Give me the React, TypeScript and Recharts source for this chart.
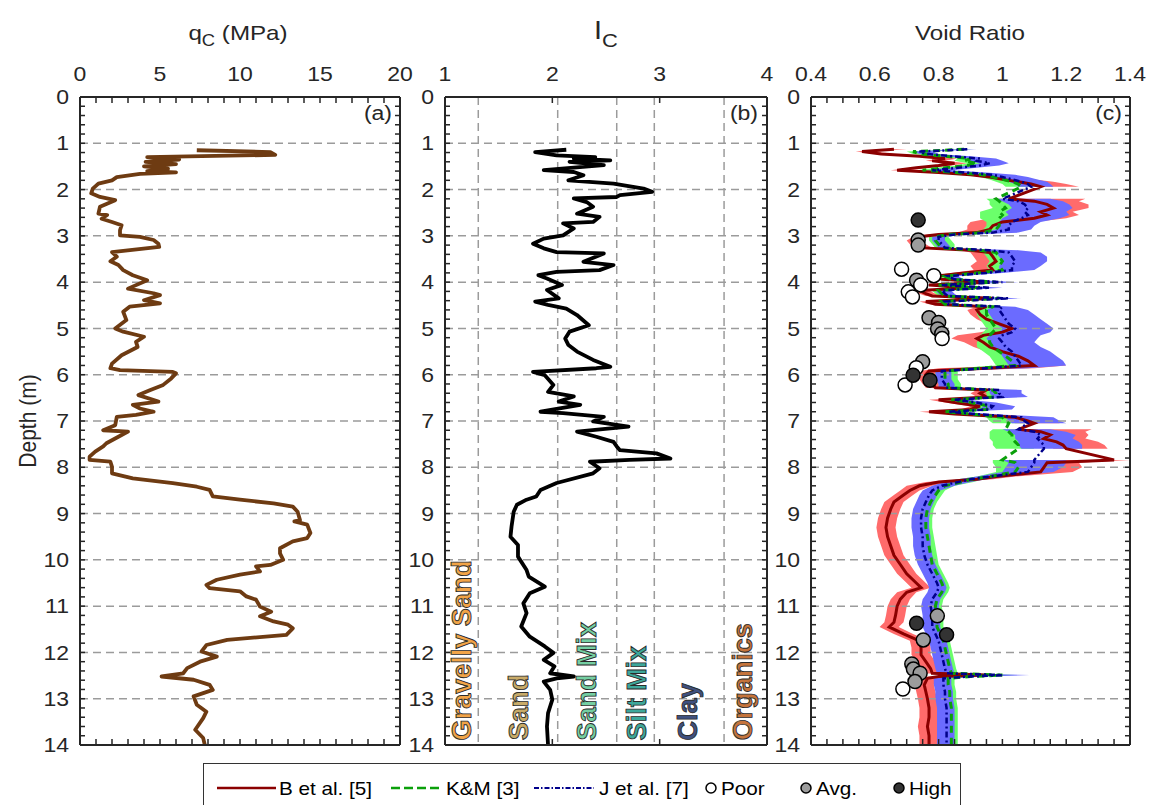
import React from 'react';
import { ComposedChart, Line, Area, Scatter, XAxis, YAxis, ReferenceLine, ReferenceDot } from 'recharts';

const INK = '#262626';
const GRID = '#9b9b9b';
const SX = 1.15; // the source figure is stretched a little horizontally

// shared depth axis (m)
const depthMajor = [0, 1, 2, 3, 4, 5, 6, 7, 8, 9, 10, 11, 12, 13, 14];
const depthGrid = [1, 2, 3, 4, 5, 6, 7, 8, 9, 10, 11, 12, 13];
const depthMinor = Array.from({ length: 71 }, (_, i) => (i * 2) / 10);

// (a) cone resistance qc (MPa)
const qcTicks = [0, 5, 10, 15, 20];
const qcMinor = Array.from({ length: 21 }, (_, i) => i);
const qcDepth = [
  1.15, 1.19, 1.25, 1.3, 1.35, 1.4, 1.45, 1.5, 1.55, 1.6,
  1.63, 1.66, 1.73, 1.8, 1.87, 1.98, 2.08, 2.16, 2.23, 2.37,
  2.52, 2.55, 2.63, 2.7, 2.77, 2.88, 2.99, 3.02, 3.09, 3.17,
  3.24, 3.35, 3.45, 3.55, 3.63, 3.74, 3.85, 3.96, 4.14, 4.24,
  4.28, 4.39, 4.46, 4.53, 4.64, 4.82, 5.0, 5.07, 5.18, 5.29,
  5.4, 5.58, 5.76, 5.86, 5.9, 5.94, 5.97, 6.08, 6.22, 6.33,
  6.44, 6.58, 6.65, 6.73, 6.8, 6.87, 6.91, 7.09, 7.2, 7.23,
  7.34, 7.48, 7.55, 7.66, 7.77, 7.84, 7.88, 7.99, 8.13, 8.24,
  8.34, 8.42, 8.49, 8.63, 8.7, 8.78, 8.85, 8.96, 9.14, 9.17,
  9.24, 9.42, 9.53, 9.6, 9.75, 9.86, 10.0, 10.11, 10.14, 10.25,
  10.32, 10.43, 10.54, 10.61, 10.68, 10.79, 10.86, 11.01, 11.12, 11.22,
  11.33, 11.4, 11.48, 11.62, 11.73, 11.84, 11.98, 12.09, 12.2, 12.34,
  12.45, 12.52, 12.59, 12.7, 12.81, 12.95, 13.13, 13.28, 13.42, 13.67,
  13.85, 14.0,
];
const qcValue = [
  7.3, 11.9, 12.2, 4.2, 6.2, 4.1, 6.0, 4.0, 5.5, 4.2,
  6.0, 3.75, 2.3, 2.0, 1.15, 0.8, 0.7, 1.25, 2.2, 1.25,
  1.15, 1.7, 1.35, 2.0, 2.6, 2.5, 2.5, 3.75, 4.6, 4.9,
  4.95, 2.0, 2.3, 1.9, 2.4, 2.7, 3.3, 4.2, 3.0, 4.6,
  5.0, 4.0, 5.0, 3.1, 2.7, 2.9, 2.2, 2.7, 4.0, 3.5,
  3.6, 2.6, 2.0, 1.9, 2.5, 5.8, 6.0, 5.7, 5.2, 4.4,
  3.65, 4.9, 3.3, 3.75, 4.6, 3.5, 2.3, 2.2, 1.45, 3.0,
  2.4, 1.65, 1.45, 0.95, 0.6, 0.6, 1.9, 2.0, 2.0, 3.3,
  5.8, 7.3, 8.1, 8.3, 10.0, 12.1, 13.3, 13.6, 13.75, 13.4,
  14.2, 14.4, 14.2, 13.3, 12.5, 12.5, 12.7, 11.9, 11.0, 11.25,
  10.0, 8.55, 7.9, 8.1, 10.0, 10.4, 11.0, 11.25, 11.95, 11.25,
  12.1, 13.0, 13.3, 12.9, 9.2, 7.9, 7.6, 8.55, 7.5, 6.7,
  6.45, 5.1, 7.1, 8.1, 8.3, 7.1, 7.3, 7.9, 7.7, 7.2,
  7.7, 7.8,
];

// (b) soil behaviour type index Ic
const icTicks = [1, 2, 3, 4];
const icBounds = [1.31, 2.05, 2.6, 2.95, 3.6];
const icDepth = [
  1.14, 1.19, 1.26, 1.3, 1.33, 1.37, 1.4, 1.47, 1.58, 1.62,
  1.69, 1.8, 1.87, 1.98, 2.05, 2.12, 2.16, 2.19, 2.27, 2.37,
  2.52, 2.59, 2.7, 2.73, 2.84, 2.99, 3.06, 3.17, 3.27, 3.35,
  3.38, 3.56, 3.63, 3.74, 3.78, 3.85, 3.92, 4.06, 4.17, 4.35,
  4.42, 4.49, 4.57, 4.71, 4.93, 5.07, 5.22, 5.36, 5.5, 5.68,
  5.83, 5.86, 5.94, 6.01, 6.22, 6.37, 6.47, 6.58, 6.65, 6.8,
  6.83, 6.91, 7.01, 7.12, 7.23, 7.34, 7.45, 7.55, 7.63, 7.7,
  7.81, 7.84, 7.88, 8.02, 8.13, 8.34, 8.49, 8.63, 8.7, 8.81,
  8.96, 9.28, 9.5, 9.68, 9.93, 10.22, 10.36, 10.58, 10.72, 10.94,
  11.15, 11.44, 11.66, 11.87, 12.01, 12.16, 12.3, 12.45, 12.52, 12.56,
  12.63, 12.81, 13.02, 13.31, 13.6, 14.0,
];
const icValue = [
  2.13, 1.84, 2.04, 2.4, 2.2, 2.54, 2.16, 2.48, 1.92, 2.2,
  2.29, 2.15, 2.57, 2.85, 2.93, 2.63, 2.6, 2.2, 2.32, 2.38,
  2.23, 2.44, 2.38, 2.1, 2.2, 2.1, 1.92, 1.82, 1.92, 2.04,
  2.48, 2.29, 2.57, 2.44, 2.04, 1.87, 1.95, 2.09, 1.95, 2.06,
  1.84, 1.96, 2.13, 2.23, 2.34, 2.16, 2.12, 2.15, 2.23, 2.38,
  2.54, 2.41, 1.82, 1.93, 2.01, 1.96, 2.2, 2.06, 2.26, 1.89,
  2.1, 2.48, 2.38, 2.71, 2.23, 2.41, 2.57, 2.6, 2.63, 2.97,
  3.1, 2.72, 2.35, 2.44, 2.38, 2.04, 1.89, 1.85, 1.76, 1.67,
  1.64, 1.62, 1.61, 1.68, 1.68, 1.76, 1.78, 1.93, 1.79, 1.73,
  1.76, 1.71, 1.79, 1.93, 2.01, 1.92, 2.02, 1.98, 2.2, 2.04,
  1.92, 1.98, 2.0, 1.96, 1.95, 1.96,
];
const soilNames = ['Gravelly Sand', 'Sand', 'Sand Mix', 'Silt Mix', 'Clay', 'Organics'];
const soilColors = ['#f2a447', '#c9ab68', '#74cfa2', '#3da89b', '#3f5180', '#c5743c'];
const soilIc = [1.15, 1.68, 2.32, 2.78, 3.26, 3.77];

// (c) void ratio: three correlations, each with an uncertainty band
const eTicks = [0.4, 0.6, 0.8, 1, 1.2, 1.4];
const eMinor = Array.from({ length: 21 }, (_, i) => (40 + i * 5) / 100);
const voidDepth = [
  1.13, 1.18, 1.23, 1.28, 1.33, 1.38, 1.43, 1.48, 1.53, 1.58, 1.63, 1.68, 1.73, 1.78, 1.83, 1.88, 1.94, 2.05,
  2.2, 2.25, 2.32, 2.4, 2.48, 2.55, 2.62, 2.7, 2.78, 2.86, 2.93, 2.97,
  3.02, 3.1, 3.18, 3.26, 3.31, 3.36, 3.45, 3.55, 3.65, 3.74, 3.8,
  3.87, 3.94, 4.0, 4.06, 4.12, 4.18, 4.25, 4.3, 4.35, 4.42, 4.48, 4.53,
  4.6, 4.7, 4.8, 4.9, 5.0, 5.08, 5.15, 5.22, 5.3, 5.4, 5.5, 5.6, 5.7, 5.8, 5.86,
  5.92, 6.0, 6.1, 6.2, 6.28, 6.33, 6.4, 6.48, 6.54, 6.6, 6.68, 6.75, 6.8, 6.85, 6.92, 7.0, 7.05, 7.12,
  7.18, 7.23, 7.3, 7.38, 7.45, 7.52, 7.6, 7.72,
  7.84, 7.9, 8.0, 8.1, 8.2, 8.26, 8.32, 8.4, 8.5, 8.6, 8.75, 8.9, 9.1, 9.3, 9.5, 9.7, 9.9, 10.1, 10.3, 10.5,
  10.6, 10.7, 10.85, 11.0, 11.2, 11.35, 11.45, 11.6, 11.75, 11.9, 12.05, 12.2, 12.35, 12.45, 12.49, 12.52,
  12.56, 12.7, 12.85, 13.0, 13.2, 13.4, 13.6, 13.8, 14.0,
];
const eB = [
  .66, .56, .62, .74, .82, .78, .85, .80, .73, .67, .80, .90, .96, 1.0, 1.05, 1.09, 1.12, null,
  1.02, 1.10, 1.14, 1.16, 1.12, 1.14, 1.10, 1.0, .97, .96, .92, .80,
  .74, .72, .73, .75, .90, .96, .97, .98, .96, .97, .88,
  .79, .81, .96, .77, .90, .74, .76, .78, .97, .76, .79, .95,
  .92, .93, .95, .99, 1.03, 1.0, .94, .92, .94, .96, 1.0, 1.05, 1.08, 1.1, .95,
  .77, .76, .77, .78, .79, .95, .93, .95, .80, .85, .93, .90, .77, .85, 1.04, 1.08, 1.1, null,
  1.05, 1.12, 1.15, 1.13, 1.17, 1.19, 1.2, null,
  1.35, 1.14, 1.13, 1.12, .98, .92, .80, .74, .71, .69, .66, .65, .64, .635, .64, .65, .66, .68, .70, .73,
  .745, .70, .68, .67, .665, .66, .645, .69, .74, .745, .745, .76, .775, .78, .95, .80,
  .765, .755, .76, .765, .77, .77, .765, .77, .77,
];
const eK = [
  .88, .72, .74, .82, .90, .88, .92, .89, .82, .75, .85, .94, .97, 1.0, 1.03, 1.05, 1.06, null,
  .98, .99, 1.0, 1.01, .99, 1.0, .99, .99, .99, .98, .94, .83,
  .79, .79, .80, .81, .93, .98, .99, 1.0, .99, 1.0, .92,
  .82, .84, .98, .80, .93, .80, .81, .82, .99, .81, .82, .97,
  .95, .95, .96, .97, .98, .97, .96, .96, .96, .97, .99, 1.01, 1.03, 1.04, .93,
  .82, .82, .82, .83, .83, .97, .98, .98, .84, .90, .96, .95, .82, .90, 1.0, 1.01, 1.02, null,
  1.01, 1.02, 1.03, 1.03, 1.04, 1.05, 1.05, null,
  1.0, 1.04, 1.05, 1.04, .96, .90, .87, .82, .80, .79, .775, .765, .76, .76, .765, .77, .775, .78, .795, .81,
  .815, .81, .795, .79, .795, .795, .795, .805, .815, .82, .825, .83, .835, .84, 1.0, .90,
  .83, .83, .835, .835, .84, .84, .84, .84, .84,
];
const eJ = [
  .89, .74, .76, .84, .93, .92, .96, .93, .86, .78, .88, .97, 1.0, 1.03, 1.06, 1.08, 1.09, null,
  1.0, 1.05, 1.07, 1.08, 1.07, 1.08, 1.06, 1.03, 1.02, 1.02, .97, .85,
  .80, .80, .81, .82, .96, 1.02, 1.03, 1.04, 1.03, 1.03, .95,
  .83, .85, 1.0, .81, .96, .81, .82, .83, 1.02, .82, .83, 1.0,
  .99, 1.0, 1.01, 1.02, 1.04, 1.03, 1.0, .99, 1.0, 1.01, 1.03, 1.04, 1.05, 1.06, .95,
  .81, .81, .81, .82, .82, .99, .99, 1.0, .85, .92, .97, .96, .83, .92, 1.06, 1.07, 1.08, null,
  1.05, 1.1, 1.12, 1.11, 1.12, 1.13, 1.13, null,
  1.1, 1.1, 1.09, 1.08, .96, .90, .86, .81, .78, .77, .76, .75, .745, .745, .75, .75, .755, .765, .78, .795,
  .80, .795, .78, .775, .78, .78, .78, .79, .80, .805, .81, .815, .82, .825, 1.0, .90,
  .815, .815, .82, .82, .825, .825, .825, .825, .825,
];
const eBLo = [
  .64, .54, .60, .72, .80, .76, .83, .78, .71, .65, .78, .88, .94, .98, 1.02, 1.05, 1.08, null,
  .97, 1.0, 1.02, 1.04, 1.0, 1.0, .96, .90, .89, .89, .86, .77,
  .72, .70, .71, .73, .87, .90, .91, .92, .90, .91, .84,
  .77, .79, .93, .75, .88, .72, .74, .76, .94, .74, .77, .92,
  .89, .90, .92, .95, .99, .93, .86, .84, .88, .91, .95, 1.0, 1.03, 1.05, .80,
  .74, .73, .74, .75, .76, .92, .90, .92, .77, .82, .90, .87, .74, .82, .98, 1.02, 1.04, null,
  1.02, 1.08, 1.11, 1.09, 1.13, 1.15, 1.16, null,
  1.1, 1.1, 1.09, 1.08, .94, .87, .76, .70, .68, .66, .63, .62, .61, .605, .61, .62, .63, .65, .67, .70,
  .715, .67, .65, .64, .635, .63, .615, .66, .71, .715, .715, .73, .745, .75, .92, .77,
  .735, .725, .73, .735, .74, .74, .735, .74, .74,
];
const eBHi = [
  .70, .60, .66, .78, .86, .82, .89, .84, .77, .71, .86, .97, 1.04, 1.1, 1.16, 1.2, 1.24, null,
  1.26, 1.24, 1.27, 1.27, 1.22, 1.24, 1.2, 1.1, 1.07, 1.06, 1.02, .88,
  .76, .75, .76, .78, .98, 1.06, 1.08, 1.1, 1.08, 1.06, .95,
  .82, .84, 1.0, .80, .94, .77, .79, .81, 1.01, .79, .82, .99,
  .97, .98, 1.0, 1.05, 1.09, 1.07, 1.0, .98, .99, 1.01, 1.05, 1.12, 1.16, 1.2, 1.1,
  .80, .79, .80, .81, .82, .99, .98, 1.0, .84, .90, .98, .95, .80, .90, 1.12, 1.16, 1.18, null,
  1.28, 1.26, 1.27, 1.26, 1.3, 1.32, 1.33, null,
  1.4, 1.24, 1.25, 1.22, 1.04, .97, .84, .78, .74, .72, .69, .68, .67, .665, .67, .68, .69, .71, .73, .76,
  .775, .73, .71, .70, .695, .69, .675, .72, .77, .775, .775, .79, .805, .81, .98, .83,
  .795, .785, .79, .795, .80, .80, .795, .80, .80,
];
const eKLo = [
  .85, .70, .72, .79, .86, .85, .89, .86, .79, .73, .82, .90, .93, .96, .98, 1.0, 1.01, null,
  .95, .96, .96, .97, .93, .93, .93, .95, .95, .94, .90, .80,
  .77, .77, .78, .79, .91, .94, .95, .96, .95, .96, .90,
  .80, .82, .95, .78, .91, .78, .79, .80, .96, .79, .80, .94,
  .92, .92, .93, .94, .95, .94, .93, .93, .92, .92, .94, .96, .97, .98, .85,
  .79, .79, .79, .80, .80, .94, .95, .95, .81, .87, .93, .92, .79, .87, .95, .96, .97, null,
  .97, .96, .96, .96, .97, .97, .98, null,
  .97, .97, .98, .98, .92, .86, .83, .79, .77, .76, .745, .735, .73, .73, .735, .74, .745, .75, .765, .78,
  .785, .78, .765, .76, .765, .765, .765, .775, .785, .79, .795, .80, .805, .81, .97, .87,
  .80, .80, .805, .805, .81, .81, .81, .81, .81,
];
const eKHi = [
  .91, .75, .78, .86, .95, .93, .97, .94, .87, .80, .90, .99, 1.02, 1.05, 1.08, 1.1, 1.11, null,
  1.02, 1.03, 1.04, 1.05, 1.02, 1.03, 1.02, 1.03, 1.03, 1.02, .98, .87,
  .83, .84, .85, .85, .96, 1.01, 1.02, 1.03, 1.02, 1.03, .95,
  .85, .87, 1.01, .83, .96, .83, .84, .85, 1.02, .84, .85, 1.0,
  .99, .99, 1.0, 1.01, 1.02, 1.01, 1.0, 1.0, 1.0, 1.01, 1.03, 1.06, 1.08, 1.09, 1.0,
  .86, .86, .86, .87, .87, 1.01, 1.02, 1.02, .88, .94, 1.0, .99, .86, .94, 1.05, 1.06, 1.07, null,
  1.06, 1.07, 1.08, 1.08, 1.09, 1.09, 1.1, null,
  1.05, 1.08, 1.09, 1.08, 1.0, .94, .91, .85, .82, .81, .795, .785, .78, .78, .785, .79, .795, .80, .815, .83,
  .835, .83, .815, .81, .815, .815, .815, .825, .835, .84, .845, .85, .855, .86, 1.04, .94,
  .85, .85, .855, .855, .86, .86, .86, .86, .86,
];
const eJLo = [
  .87, .72, .74, .82, .90, .89, .93, .90, .84, .76, .86, .94, .97, 1.0, 1.02, 1.04, 1.05, null,
  .97, 1.0, 1.02, 1.03, 1.01, 1.02, 1.0, .99, .98, .98, .94, .82,
  .78, .78, .79, .80, .93, .98, .99, 1.0, .99, .99, .92,
  .81, .83, .97, .79, .93, .79, .80, .81, .99, .80, .81, .97,
  .95, .96, .97, .98, 1.0, .99, .96, .95, .96, .97, .99, 1.0, 1.01, 1.02, .87,
  .79, .79, .79, .80, .80, .96, .96, .97, .83, .89, .94, .93, .80, .89, 1.01, 1.02, 1.03, null,
  1.0, 1.02, 1.04, 1.04, 1.05, 1.05, 1.06, null,
  1.0, 1.02, 1.01, 1.0, .92, .86, .82, .78, .75, .74, .73, .72, .715, .715, .72, .72, .725, .735, .75, .765,
  .77, .765, .75, .745, .75, .75, .75, .76, .77, .775, .78, .785, .79, .795, .97, .87,
  .785, .785, .79, .79, .795, .795, .795, .795, .795,
];
const eJHi = [
  .92, .78, .80, .90, .98, 1.0, 1.02, .99, .92, .84, .95, 1.04, 1.08, 1.11, 1.14, 1.15, 1.16, null,
  1.15, 1.19, 1.21, 1.22, 1.2, 1.21, 1.18, 1.12, 1.1, 1.09, 1.05, .9,
  .82, .82, .83, .84, 1.05, 1.12, 1.14, 1.14, 1.12, 1.1, 1.0,
  .86, .88, 1.05, .84, 1.0, .84, .85, .86, 1.06, .85, .86, 1.04,
  1.08, 1.1, 1.12, 1.14, 1.16, 1.15, 1.12, 1.11, 1.1, 1.12, 1.15, 1.17, 1.19, 1.2, 1.08,
  .84, .84, .84, .85, .85, 1.06, 1.06, 1.08, .89, .98, 1.04, 1.03, .87, .97, 1.16, 1.18, 1.2, null,
  1.15, 1.2, 1.23, 1.22, 1.24, 1.25, 1.25, null,
  1.2, 1.2, 1.19, 1.16, 1.02, .95, .90, .85, .805, .795, .785, .775, .77, .77, .775, .775, .78, .79, .805, .82,
  .825, .82, .805, .80, .805, .805, .805, .815, .825, .83, .835, .84, .845, .85, 1.085, .95,
  .84, .84, .845, .845, .85, .85, .85, .85, .85,
];

// density class measurements
const poorDepth = [3.72, 3.86, 4.06, 4.21, 4.32, 5.22, 5.85, 6.22, 12.79];
const poorE = [0.684, 0.785, 0.744, 0.705, 0.718, 0.811, 0.73, 0.695, 0.688];
const avgDepth = [3.09, 3.2, 3.96, 4.77, 4.87, 5.01, 5.11, 5.72, 11.21, 11.73, 12.25, 12.36, 12.45, 12.63];
const avgE = [0.736, 0.736, 0.731, 0.77, 0.8, 0.797, 0.81, 0.75, 0.796, 0.752, 0.716, 0.721, 0.742, 0.726];
const highDepth = [2.66, 6.01, 6.12, 11.37, 11.62];
const highE = [0.736, 0.72, 0.773, 0.731, 0.825];

const qcData = qcDepth.map((depth, i) => ({ depth, qc: qcValue[i] }));
const icData = icDepth.map((depth, i) => ({ depth, ic: icValue[i] }));
const band = (lo: (number | null)[], hi: (number | null)[], i: number) =>
  lo[i] == null || hi[i] == null ? null : [lo[i], hi[i]];
const voidData = voidDepth.map((depth, i) => ({
  depth,
  b: eB[i],
  k: eK[i],
  j: eJ[i],
  bBand: band(eBLo, eBHi, i),
  kBand: band(eKLo, eKHi, i),
  jBand: band(eJLo, eJHi, i),
}));
const poorDots = poorDepth.map((depth, i) => ({ depth, e: poorE[i] }));
const avgDots = avgDepth.map((depth, i) => ({ depth, e: avgE[i] }));
const highDots = highDepth.map((depth, i) => ({ depth, e: highE[i] }));

const frame = { stroke: INK, strokeWidth: 2 };
const tickMark = { stroke: INK, strokeWidth: 1.5 };
const noLabel = () => <g />;

const TopTick = (p: any) => (
  <g transform={`translate(${p.x},${p.y}) scale(${SX},1)`}>
    <text x={0} y={0} textAnchor="middle" fill={INK} fontSize={20}>{p.payload.value}</text>
  </g>
);

const LeftTick = (p: any) => (
  <g transform={`translate(${p.x},${p.y}) scale(${SX},1)`}>
    <text x={0} y={0} dy="0.36em" textAnchor="end" fill={INK} fontSize={20}>{p.payload.value}</text>
  </g>
);

const dotShape = (fill: string) => (p: any) =>
  <circle cx={p.cx} cy={p.cy} r={7} fill={fill} stroke="#000" strokeWidth={1.5} />;

const soilLabel = (name: string, color: string) => (p: any) => (
  <text x={p.cx} y={p.cy} transform={`rotate(-90 ${p.cx} ${p.cy})`} dy="0.36em" fill={color}
    stroke="#2b2b2b" strokeWidth={0.9} fontSize={27} fontWeight="bold">{name}</text>
);

// in the vertical layout the depth axis already runs top-down, so no `reversed` here.
// mirrored axes take no room; they only draw the inward ticks and the far borders.
function Panel({ left, width, domain, major, minor, data, children }: any) {
  return (
    <div style={{ position: 'absolute', left, top: 0 }}>
      <ComposedChart layout="vertical" width={width} height={760} data={data}
        margin={{ top: 57, right: 20, bottom: 15, left: 0 }}>
        <XAxis xAxisId="top" type="number" orientation="top" domain={domain} ticks={major} interval={0}
          allowDataOverflow height={40} tickLine={false} tickSize={6} tickMargin={10} axisLine={frame} tick={TopTick} />
        <XAxis xAxisId="topMinor" type="number" orientation="top" mirror domain={domain} ticks={minor} interval={0}
          allowDataOverflow height={1} tick={noLabel} tickLine={tickMark} tickSize={6} axisLine={false} />
        <XAxis xAxisId="bottom" type="number" orientation="bottom" mirror domain={domain} ticks={minor} interval={0}
          allowDataOverflow height={1} tick={noLabel} tickLine={tickMark} tickSize={6} axisLine={frame} />
        <YAxis yAxisId="left" type="number" dataKey="depth" domain={[0, 14]} ticks={depthMajor} interval={0}
          allowDataOverflow width={60} tickLine={false} tickSize={4} tickMargin={7} axisLine={frame} tick={LeftTick} />
        <YAxis yAxisId="leftMinor" type="number" dataKey="depth" domain={[0, 14]} mirror ticks={depthMinor} interval={0}
          allowDataOverflow width={1} tick={noLabel} tickLine={tickMark} tickSize={5} axisLine={false} />
        <YAxis yAxisId="right" orientation="right" type="number" dataKey="depth" domain={[0, 14]} mirror ticks={depthMinor}
          interval={0} allowDataOverflow width={1} tick={noLabel} tickLine={tickMark} tickSize={5} axisLine={frame} />
        {depthGrid.map((d) => (
          <ReferenceLine key={`g${d}`} xAxisId="top" yAxisId="left" y={d} stroke={GRID} strokeWidth={1.5} strokeDasharray="8 5" />
        ))}
        {children}
      </ComposedChart>
    </div>
  );
}

const text = (style: React.CSSProperties): React.CSSProperties => ({
  position: 'absolute', whiteSpace: 'nowrap', color: INK, lineHeight: 1, ...style,
});

export default function App() {
  return (
    <div style={{ position: 'absolute', left: 0, top: 0, width: 1150, height: 805, overflow: 'hidden', background: '#fff',
      fontFamily: "'Liberation Sans', Arial, Helvetica, sans-serif" }}>
      {/* titles */}
      <div style={text({ left: 238, top: 32, fontSize: 21, transform: `translate(-50%,-50%) scaleX(${SX})` })}>
        q<span style={{ fontSize: 16, position: 'relative', top: 6 }}>C</span> (MPa)
      </div>
      <div style={text({ left: 606, top: 30, fontSize: 25, transform: `translate(-50%,-50%) scaleX(${SX})` })}>
        I<span style={{ fontSize: 19, position: 'relative', top: 8 }}>C</span>
      </div>
      <div style={text({ left: 970, top: 32, fontSize: 21, transform: `translate(-50%,-50%) scaleX(${SX})` })}>
        Void Ratio
      </div>
      <div style={text({ left: 27, top: 421, fontSize: 21, transform: `translate(-50%,-50%) rotate(-90deg) scaleY(${SX})` })}>
        Depth (m)
      </div>

      <Panel left={20} width={400} domain={[0, 20]} major={qcTicks} minor={qcMinor} data={qcData}>
        <Line xAxisId="top" yAxisId="left" dataKey="qc" stroke="#6e3b12" strokeWidth={3.8} strokeLinejoin="round"
          dot={false} activeDot={false} isAnimationActive={false} />
      </Panel>

      <Panel left={385} width={402} domain={[1, 4]} major={icTicks} minor={icTicks} data={icData}>
        {icBounds.map((b) => (
          <ReferenceLine key={`ib${b}`} xAxisId="top" yAxisId="left" x={b} stroke={GRID} strokeWidth={1.5} strokeDasharray="8 5" />
        ))}
        {soilNames.map((name, i) => (
          <ReferenceDot key={name} xAxisId="top" yAxisId="left" x={soilIc[i]} y={13.9} r={0}
            shape={soilLabel(name, soilColors[i])} />
        ))}
        <Line xAxisId="top" yAxisId="left" dataKey="ic" stroke="#000" strokeWidth={3.8} strokeLinejoin="round"
          dot={false} activeDot={false} isAnimationActive={false} />
      </Panel>

      <Panel left={751} width={399} domain={[0.4, 1.4]} major={eTicks} minor={eMinor} data={voidData}>
        <Area xAxisId="top" yAxisId="left" dataKey="bBand" stroke="none" fill="#ff6b6b" fillOpacity={1}
          dot={false} activeDot={false} isAnimationActive={false} />
        <Area xAxisId="top" yAxisId="left" dataKey="kBand" stroke="none" fill="#6bff6b" fillOpacity={1}
          dot={false} activeDot={false} isAnimationActive={false} />
        <Area xAxisId="top" yAxisId="left" dataKey="jBand" stroke="none" fill="#6b6bff" fillOpacity={1}
          dot={false} activeDot={false} isAnimationActive={false} />
        <Line xAxisId="top" yAxisId="left" dataKey="b" stroke="#8b0000" strokeWidth={3}
          dot={false} activeDot={false} isAnimationActive={false} />
        <Line xAxisId="top" yAxisId="left" dataKey="k" stroke="#0aa00a" strokeWidth={3} strokeDasharray="7 5"
          dot={false} activeDot={false} isAnimationActive={false} />
        <Line xAxisId="top" yAxisId="left" dataKey="j" stroke="#00008b" strokeWidth={2.5} strokeDasharray="6 3 2 3"
          dot={false} activeDot={false} isAnimationActive={false} />
        <Scatter xAxisId="top" yAxisId="left" data={avgDots} dataKey="e" shape={dotShape('#9c9c9c')} isAnimationActive={false} />
        <Scatter xAxisId="top" yAxisId="left" data={poorDots} dataKey="e" shape={dotShape('#ffffff')} isAnimationActive={false} />
        <Scatter xAxisId="top" yAxisId="left" data={highDots} dataKey="e" shape={dotShape('#333333')} isAnimationActive={false} />
      </Panel>

      {/* panel tags */}
      <div style={text({ left: 342, top: 103, width: 50, textAlign: 'right', fontSize: 20, transform: `scaleX(${SX})`, transformOrigin: 'right' })}>(a)</div>
      <div style={text({ left: 708, top: 103, width: 50, textAlign: 'right', fontSize: 20, transform: `scaleX(${SX})`, transformOrigin: 'right' })}>(b)</div>
      <div style={text({ left: 1072, top: 103, width: 50, textAlign: 'right', fontSize: 20, transform: `scaleX(${SX})`, transformOrigin: 'right' })}>(c)</div>

      {/* legend */}
      <div style={{ position: 'absolute', left: 203, top: 763, width: 758, height: 48, border: '1.5px solid #333',
        boxSizing: 'border-box', background: '#fff' }}>
        <svg width={756} height={46} style={{ display: 'block' }}>
          <line x1={13} x2={72} y1={24} y2={24} stroke="#8b0000" strokeWidth={2.5} />
          <g transform={`translate(75,30.5) scale(${SX},1)`}><text fontSize={18} fill="#000">B et al. [5]</text></g>
          <line x1={187} x2={237} y1={24} y2={24} stroke="#0aa00a" strokeWidth={2.5} strokeDasharray="9 4" />
          <g transform={`translate(242,30.5) scale(${SX},1)`}><text fontSize={18} fill="#000">K&amp;M [3]</text></g>
          <line x1={330} x2={390} y1={24} y2={24} stroke="#00008b" strokeWidth={2} strokeDasharray="5 2 1.5 2" />
          <g transform={`translate(395,30.5) scale(${SX},1)`}><text fontSize={18} fill="#000">J et al. [7]</text></g>
          <circle cx={507} cy={24} r={5} fill="#fff" stroke="#000" strokeWidth={1.5} />
          <g transform={`translate(517,30.5) scale(${SX},1)`}><text fontSize={18} fill="#000">Poor</text></g>
          <circle cx={602} cy={24} r={5} fill="#9c9c9c" stroke="#000" strokeWidth={1.5} />
          <g transform={`translate(612,30.5) scale(${SX},1)`}><text fontSize={18} fill="#000">Avg.</text></g>
          <circle cx={695} cy={24} r={5} fill="#333" stroke="#000" strokeWidth={1.5} />
          <g transform={`translate(705,30.5) scale(${SX},1)`}><text fontSize={18} fill="#000">High</text></g>
        </svg>
      </div>
    </div>
  );
}
